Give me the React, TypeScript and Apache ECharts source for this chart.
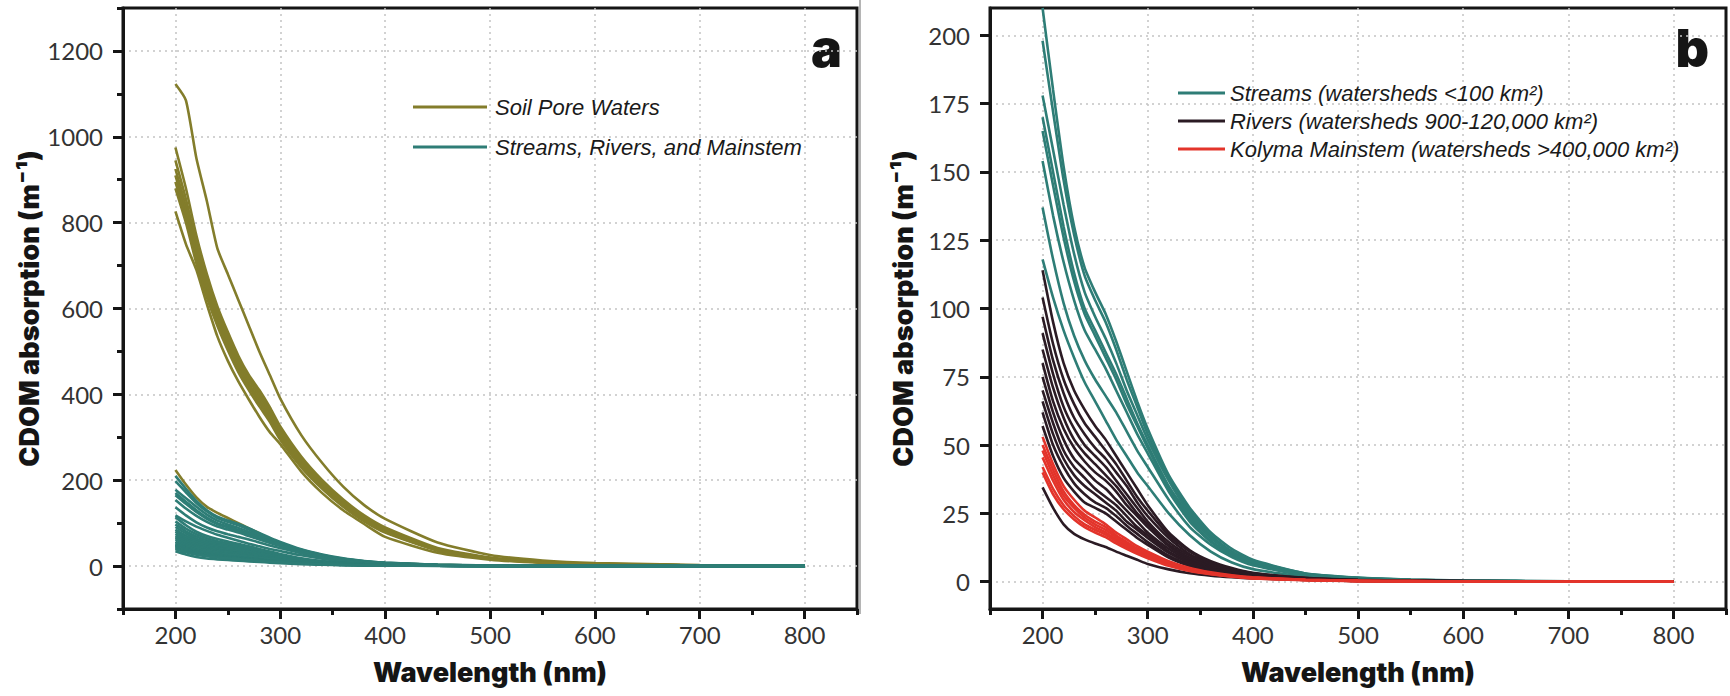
import React, { useEffect, useRef } from 'react';
import * as echarts from 'echarts';

// Wavelength sampling (nm)
const WAVELENGTHS = [200, 210, 220, 230, 240, 250, 260, 270, 280, 290, 300, 320, 340, 360, 380, 400, 450, 500, 550, 600, 700, 800];

// Panel a: soil pore waters (m^-1)
const SOIL_P1 = [1123, 1085, 950, 850, 740, 680, 620, 560, 500, 445, 390, 305, 240, 185, 142, 110, 55, 26, 13, 7, 2.5, 0.5];
const SOIL_B1 = [975, 880, 770, 680, 605, 545, 490, 445, 410, 370, 325, 255, 200, 155, 118, 90, 42, 20, 10, 5.5, 1.5, 0.3];
const SOIL_B2 = [945, 855, 752, 667, 595, 537, 484, 440, 403, 364, 320, 250, 196, 152, 115, 86, 40, 19, 9.5, 5.2, 1.5, 0.3];
const SOIL_B3 = [925, 838, 738, 655, 585, 528, 476, 433, 396, 357, 313, 245, 192, 148, 112, 84, 39, 18.5, 9.2, 5, 1.4, 0.3];
const SOIL_B4 = [910, 825, 727, 645, 576, 520, 468, 425, 388, 350, 306, 240, 188, 145, 110, 82, 38, 18, 9, 4.8, 1.4, 0.3];
const SOIL_B5 = [895, 812, 716, 636, 568, 512, 460, 418, 380, 343, 300, 235, 184, 142, 107, 80, 37, 17.5, 8.8, 4.7, 1.4, 0.3];
const SOIL_B6 = [880, 800, 705, 626, 560, 503, 452, 410, 372, 336, 294, 230, 180, 138, 104, 78, 36, 17, 8.5, 4.5, 1.3, 0.3];
const SOIL_B7 = [826, 750, 690, 610, 535, 478, 430, 388, 348, 312, 284, 220, 170, 130, 98, 68, 31, 15, 7.5, 4, 1.2, 0.3];
const SOIL_LOW = [224, 190, 160, 138, 124, 112, 100, 88, 76, 62, 52, 32, 21, 14, 9.5, 6.5, 2.7, 1.2, 0.6, 0.3, 0.1, 0];

// Streams (watersheds <100 km2)
const STREAM_1 = [210, 180, 152, 130, 115, 106, 98, 88, 77, 66, 56, 39, 27, 18, 12, 8, 3, 1.5, 0.8, 0.4, 0.1, 0];
const STREAM_2 = [198, 172, 147, 127, 112, 103, 95, 85, 74, 64, 54, 38, 26, 17, 11, 7.5, 3, 1.4, 0.7, 0.4, 0.1, 0];
const STREAM_3 = [178, 158, 138, 120, 106, 97, 89, 80, 70, 61, 52, 37, 25, 16.5, 11, 7, 2.8, 1.3, 0.7, 0.3, 0.1, 0];
const STREAM_4 = [170, 150, 130, 113, 100, 92, 84, 76, 67, 58, 50, 35, 24, 16, 10.5, 7, 2.7, 1.2, 0.6, 0.3, 0.1, 0];
const STREAM_5 = [165, 145, 126, 110, 98, 90, 82, 74, 65, 57, 49, 34, 23, 15, 10, 6.5, 2.5, 1.2, 0.6, 0.3, 0.1, 0];
const STREAM_6 = [154, 134, 117, 103, 92, 85, 78, 70, 62, 54, 47, 33, 22, 14.5, 9.5, 6.3, 2.4, 1.1, 0.6, 0.3, 0.1, 0];
const STREAM_7 = [137, 118, 102, 90, 81, 74, 68, 62, 55, 48, 42, 30, 20, 13.5, 9, 6, 2.3, 1.1, 0.5, 0.3, 0.1, 0];
const STREAM_8 = [118, 104, 92, 82, 73, 66, 59, 52, 46, 40, 35, 25, 17, 11, 7, 4.6, 1.8, 0.9, 0.4, 0.2, 0.1, 0];

// Rivers (watersheds 900-120,000 km2)
const RIVER_1 = [114, 95, 80, 70, 63, 57, 52, 46, 40, 34, 28, 18, 11.5, 7.5, 5, 3.3, 1.4, 0.7, 0.4, 0.2, 0.1, 0];
const RIVER_2 = [104, 87, 74, 65, 58, 53, 48, 43, 37, 31, 26, 17, 11, 7, 4.6, 3.1, 1.3, 0.6, 0.3, 0.2, 0.1, 0];
const RIVER_3 = [97, 81, 69, 60, 54, 49, 45, 40, 35, 29, 24, 16, 10, 6.6, 4.3, 2.9, 1.2, 0.6, 0.3, 0.2, 0.1, 0];
const RIVER_4 = [91, 76, 64, 56, 50, 46, 42, 37, 32, 27, 22, 14.5, 9.5, 6.2, 4, 2.7, 1.1, 0.5, 0.3, 0.1, 0.1, 0];
const RIVER_5 = [85, 71, 60, 52, 47, 43, 39, 35, 30, 25, 21, 13.5, 8.8, 5.8, 3.8, 2.5, 1, 0.5, 0.3, 0.1, 0, 0];
const RIVER_6 = [80, 66, 56, 49, 44, 40, 37, 33, 28, 24, 20, 13, 8.3, 5.4, 3.5, 2.3, 1, 0.5, 0.3, 0.1, 0, 0];
const RIVER_7 = [75, 62, 52, 45, 41, 37, 34, 30, 26, 22, 18, 12, 7.7, 5, 3.3, 2.2, 0.9, 0.4, 0.2, 0.1, 0, 0];
const RIVER_8 = [70, 58, 48, 42, 38, 34, 31, 28, 24, 20, 17, 11, 7.2, 4.7, 3.1, 2, 0.9, 0.4, 0.2, 0.1, 0, 0];
const RIVER_9 = [66, 54, 45, 39, 35, 32, 29, 26, 22, 19, 16, 10.5, 6.8, 4.4, 2.9, 1.9, 0.8, 0.4, 0.2, 0.1, 0, 0];
const RIVER_10 = [62, 50, 42, 36, 32, 29, 27, 24, 20.5, 17.5, 14.5, 9.5, 6.2, 4, 2.6, 1.7, 0.7, 0.3, 0.2, 0.1, 0, 0];
const RIVER_11 = [57, 46, 38, 33, 29, 27, 25, 22, 19, 16, 13.5, 8.8, 5.7, 3.7, 2.4, 1.6, 0.7, 0.3, 0.2, 0.1, 0, 0];
const RIVER_12 = [34.5, 27, 21, 17.5, 15.5, 14, 12.7, 11, 9.5, 8, 6.5, 4.5, 3.1, 2.2, 1.6, 1.2, 0.6, 0.3, 0.2, 0.1, 0, 0];

// Kolyma mainstem (watersheds >400,000 km2)
const MAIN_1 = [53, 43, 35, 30, 26, 23.5, 21, 18, 15.5, 13, 11, 7.5, 5, 3.4, 2.3, 1.6, 0.7, 0.3, 0.2, 0.1, 0, 0];
const MAIN_2 = [50, 41, 33, 28, 24.5, 22, 20, 17, 14.5, 12.2, 10.3, 7, 4.7, 3.2, 2.2, 1.5, 0.7, 0.3, 0.2, 0.1, 0, 0];
const MAIN_3 = [48, 39, 31.5, 27, 23.5, 21, 19, 16.3, 14, 11.8, 10, 6.8, 4.5, 3.1, 2.1, 1.4, 0.6, 0.3, 0.2, 0.1, 0, 0];
const MAIN_4 = [45.5, 37, 30, 25.5, 22.5, 20, 18, 15.5, 13.3, 11.2, 9.5, 6.4, 4.3, 2.9, 2, 1.4, 0.6, 0.3, 0.1, 0.1, 0, 0];
const MAIN_5 = [42, 34, 28, 24, 21, 19, 17.2, 14.8, 12.7, 10.7, 9, 6.1, 4.1, 2.8, 1.9, 1.3, 0.6, 0.3, 0.1, 0.1, 0, 0];
const MAIN_6 = [40, 32, 26.5, 22.8, 20, 18, 16.3, 14, 12, 10.2, 8.6, 5.8, 3.9, 2.7, 1.8, 1.2, 0.5, 0.2, 0.1, 0.1, 0, 0];

const SOIL = [SOIL_P1, SOIL_B1, SOIL_B2, SOIL_B3, SOIL_B4, SOIL_B5, SOIL_B6, SOIL_B7, SOIL_LOW];
const STREAMS = [STREAM_1, STREAM_2, STREAM_3, STREAM_4, STREAM_5, STREAM_6, STREAM_7, STREAM_8];
const RIVERS = [RIVER_1, RIVER_2, RIVER_3, RIVER_4, RIVER_5, RIVER_6, RIVER_7, RIVER_8, RIVER_9, RIVER_10, RIVER_11, RIVER_12];
const MAINSTEM = [MAIN_1, MAIN_2, MAIN_3, MAIN_4, MAIN_5, MAIN_6];

// Tick labels
const X_MAJOR = [200, 300, 400, 500, 600, 700, 800];
const X_MINOR = [150, 250, 350, 450, 550, 650, 750, 850];
const YA_MAJOR = [0, 200, 400, 600, 800, 1000, 1200];
const YA_MINOR = [-100, 100, 300, 500, 700, 900, 1100, 1300];
const YB_MAJOR = [0, 25, 50, 75, 100, 125, 150, 175, 200];

const NAME_SOIL = 'Soil Pore Waters';
const NAME_ALL = 'Streams, Rivers, and Mainstem';
const NAME_STREAMS = 'Streams (watersheds <100 km²)';
const NAME_RIVERS = 'Rivers (watersheds 900-120,000 km²)';
const NAME_MAIN = 'Kolyma Mainstem (watersheds >400,000 km²)';

const OLIVE = '#837d2b';
const TEAL = '#2e7d76';
const DARK = '#2b1b24';
const RED = '#e3342b';
const INK = '#151515';
const FONT = 'Lato, "Liberation Sans", sans-serif';
const HEAVY = 'Inter, Roboto, "Open Sans", sans-serif';
const LEGEND_FONT = '"Liberation Sans", Arial, sans-serif';

const plain = (v: number) => String(v);

function mkSeries(name: string, vals: number[], color: string, xi: number, yi: number, z: number) {
  return {
    type: 'line',
    name,
    data: WAVELENGTHS.map((w, i) => [w, vals[i]]),
    xAxisIndex: xi,
    yAxisIndex: yi,
    showSymbol: false,
    symbol: 'none',
    smooth: 0.2,
    silent: true,
    z,
    lineStyle: { color, width: 2.6 },
    itemStyle: { color },
  };
}

const titleStyle = { fontSize: 27, fontWeight: 900, color: INK, fontFamily: HEAVY };

function majorX(gi: number, nameGap: number) {
  return {
    type: 'value', gridIndex: gi, min: 150, max: 850, position: 'bottom',
    axisLine: { show: true, onZero: false, lineStyle: { color: INK, width: 3 } },
    axisTick: { show: true, customValues: X_MAJOR, length: 10, lineStyle: { color: INK, width: 3 } },
    axisLabel: { customValues: X_MAJOR, fontSize: 24, color: '#333', margin: 13, fontFamily: FONT, formatter: plain },
    splitLine: { show: true, lineStyle: { color: '#c4c4c4', width: 1.5, type: [2, 4] } },
    name: 'Wavelength (nm)', nameLocation: 'middle', nameGap,
    nameTextStyle: titleStyle,
  };
}
function minorX(gi: number) {
  return {
    type: 'value', gridIndex: gi, min: 150, max: 850, position: 'bottom', offset: 0,
    axisLine: { show: false, onZero: false },
    axisTick: { show: true, customValues: X_MINOR, length: 6, lineStyle: { color: INK, width: 3 } },
    axisLabel: { show: false },
    splitLine: { show: false },
  };
}

export default function App() {
  const ref = useRef<HTMLDivElement>(null);
  useEffect(() => {
    if (!ref.current) return;
    const chart = echarts.init(ref.current, null, { renderer: 'svg' });
    const series: any[] = [];
    SOIL.forEach((v) => series.push(mkSeries(NAME_SOIL, v, OLIVE, 0, 0, 2)));
    [...STREAMS, ...RIVERS, ...MAINSTEM].forEach((v) => series.push(mkSeries(NAME_ALL, v, TEAL, 0, 0, 3)));
    STREAMS.forEach((v) => series.push(mkSeries(NAME_STREAMS, v, TEAL, 2, 2, 2)));
    RIVERS.forEach((v) => series.push(mkSeries(NAME_RIVERS, v, DARK, 2, 2, 3)));
    MAINSTEM.forEach((v) => series.push(mkSeries(NAME_MAIN, v, RED, 2, 2, 4)));

    const option: any = {
      animation: false,
      backgroundColor: '#fff',
      grid: [
        { left: 123, top: 8, width: 734, height: 601, show: true, borderColor: INK, borderWidth: 3, backgroundColor: 'transparent' },
        { left: 990, top: 8, width: 736, height: 601, show: true, borderColor: INK, borderWidth: 3, backgroundColor: 'transparent' },
      ],
      xAxis: [majorX(0, 50), minorX(0), majorX(1, 50), minorX(1)],
      yAxis: [
        {
          type: 'value', gridIndex: 0, min: -100, max: 1300, position: 'left',
          axisLine: { show: true, onZero: false, lineStyle: { color: INK, width: 3 } },
          axisTick: { show: true, customValues: YA_MAJOR, length: 10, lineStyle: { color: INK, width: 3 } },
          axisLabel: { customValues: YA_MAJOR, fontSize: 24, color: '#333', margin: 20, fontFamily: FONT, formatter: plain },
          splitLine: { show: true, lineStyle: { color: '#c4c4c4', width: 1.5, type: [2, 4] } },
          name: 'CDOM absorption (m⁻¹)', nameLocation: 'middle', nameGap: 80,
          nameTextStyle: titleStyle,
        },
        {
          type: 'value', gridIndex: 0, min: -100, max: 1300, position: 'left', offset: 0,
          axisLine: { show: false, onZero: false },
          axisTick: { show: true, customValues: YA_MINOR, length: 6, lineStyle: { color: INK, width: 3 } },
          axisLabel: { show: false },
          splitLine: { show: false },
        },
        {
          type: 'value', gridIndex: 1, min: -10, max: 210, position: 'left',
          axisLine: { show: true, onZero: false, lineStyle: { color: INK, width: 3 } },
          axisTick: { show: true, customValues: YB_MAJOR, length: 10, lineStyle: { color: INK, width: 3 } },
          axisLabel: { customValues: YB_MAJOR, fontSize: 24, color: '#333', margin: 20, fontFamily: FONT, formatter: plain },
          splitLine: { show: true, lineStyle: { color: '#c4c4c4', width: 1.5, type: [2, 4] } },
          name: 'CDOM absorption (m⁻¹)', nameLocation: 'middle', nameGap: 73,
          nameTextStyle: titleStyle,
        },
      ],
      legend: [
        {
          data: [NAME_SOIL, NAME_ALL], orient: 'vertical', left: 413, top: 87, padding: 0,
          icon: 'rect', itemWidth: 74, itemHeight: 3, itemGap: 0, selectedMode: false,
          textStyle: { fontStyle: 'italic', fontSize: 22, color: '#1a1a1a', lineHeight: 40, fontFamily: LEGEND_FONT, padding: [0, 0, 0, 3] },
        },
        {
          data: [NAME_STREAMS, NAME_RIVERS, NAME_MAIN], orient: 'vertical', left: 1178, top: 79, padding: 0,
          icon: 'rect', itemWidth: 47, itemHeight: 3, itemGap: 0, selectedMode: false,
          textStyle: { fontStyle: 'italic', fontSize: 22, color: '#1a1a1a', lineHeight: 28, fontFamily: LEGEND_FONT },
        },
      ],
      graphic: [
        { type: 'line', silent: true, shape: { x1: 860, y1: 0, x2: 860, y2: 614 }, style: { stroke: '#b5b5b5', lineWidth: 2 } },
        { type: 'text', x: 842, y: 48, style: { text: 'a', font: `900 52px ${HEAVY}`, fill: INK, align: 'right', verticalAlign: 'middle' } },
        { type: 'text', x: 1709, y: 48, style: { text: 'b', font: `900 52px ${HEAVY}`, fill: INK, align: 'right', verticalAlign: 'middle' } },
      ],
      series,
    };
    chart.setOption(option);
    return () => chart.dispose();
  }, []);
  return <div ref={ref} style={{ position: 'fixed', left: 0, top: 0, width: 1730, height: 696, background: '#fff' }} />;
}
